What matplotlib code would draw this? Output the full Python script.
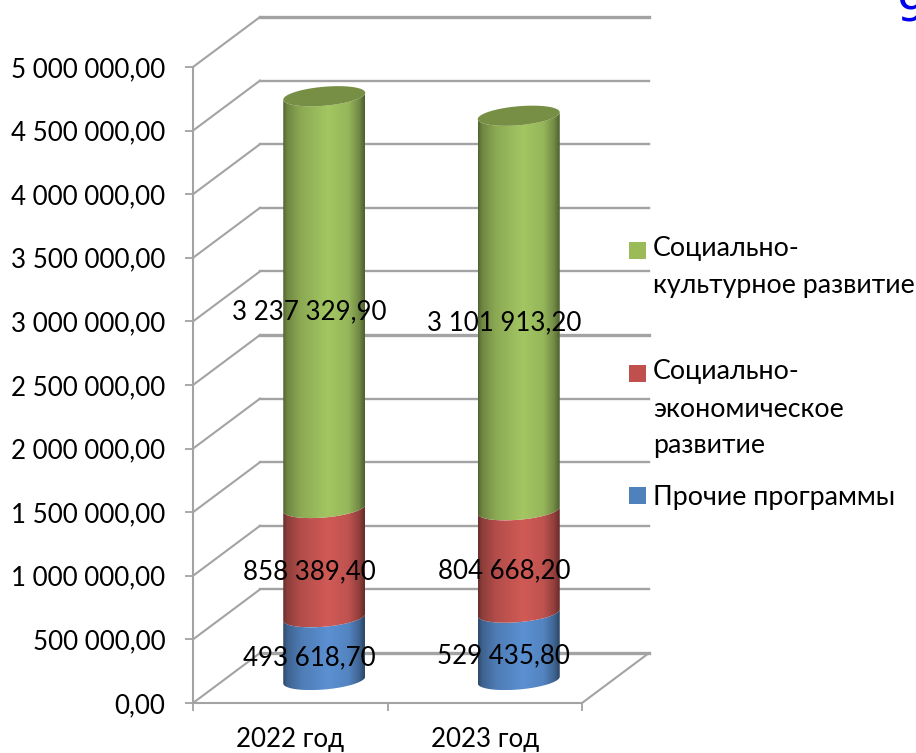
import matplotlib
matplotlib.use('Agg')
import matplotlib.pyplot as plt
import numpy as np
from matplotlib.path import Path
from matplotlib.patches import PathPatch, Polygon, Rectangle

plt.rcParams['font.family'] = ['Lato', 'DejaVu Sans']

years = ['2022 год', '2023 год']
other = [493618.70, 529435.80]
economic = [858389.40, 804668.20]
cultural = [3237329.90, 3101913.20]
other_labels = ['493 618,70', '529 435,80']
economic_labels = ['858 389,40', '804 668,20']
cultural_labels = ['3 237 329,90', '3 101 913,20']
y_ticks = [0, 500000, 1000000, 1500000, 2000000, 2500000, 3000000, 3500000, 4000000, 4500000, 5000000]
y_tick_labels = ['0,00', '500 000,00', '1 000 000,00', '1 500 000,00', '2 000 000,00', '2 500 000,00',
                 '3 000 000,00', '3 500 000,00', '4 000 000,00', '4 500 000,00', '5 000 000,00']

W, H = 916, 753
GRID = '#a3a3a3'
FONT = 18.6
LEGEND_FONT = 19.3

fig = plt.figure(figsize=(W / 100, H / 100), dpi=100)
ax = fig.add_axes([193 / W, 1 - 703 / H, 389 / W, 636 / H])
ax.set_xlim(-0.5, 1.5)
ax.set_ylim(0, 5000000)

# pixels to data units
px_x = 2 / 389
px_y = 5000000 / 636
depth_x = 67 * px_x
depth_y = 50 * px_y
right_x = 1.5 + depth_x


def fig_xy(x, y):
    return x / W, 1 - y / H


# walls, three of the back lines come out heavier in the reference
for v in y_ticks:
    back_lw = 2.4 if v in (0, 2500000, 5000000) else 1.7
    ax.plot([-0.5, -0.5 + depth_x], [v, v + depth_y], color=GRID, lw=1.5, clip_on=False, zorder=1)
    ax.plot([-0.5 + depth_x, right_x], [v + depth_y, v + depth_y], color=GRID, lw=back_lw, clip_on=False, zorder=1)
ax.plot([1.5, right_x], [0, depth_y], color=GRID, lw=1.5, clip_on=False, zorder=1)

# cylinders
half_w = 41 * px_x
half_h = 9.5 * px_y
tilt = 3.4 * px_y
cyl_dx = 34 * px_x
cyl_dy = 23 * px_y


def arc(cx, v, start, stop):
    t = np.linspace(start, stop, 80)
    return cx + half_w * np.cos(t), v - half_h * np.sin(t) + tilt * np.cos(t)


def draw_segment(cx, v0, v1, colour):
    x0, y0 = arc(cx, v0, np.pi, 0)
    x1, y1 = arc(cx, v1, 0, np.pi)
    verts = np.column_stack([np.r_[x0, x1], np.r_[y0, y1]])
    patch = PathPatch(Path(verts), transform=ax.transData, fc='none', ec='none')
    ax.add_patch(patch)
    pos = np.linspace(0, 1, 200)
    shade = np.interp(pos, [0, 0.05, 0.22, 0.55, 0.8, 0.93, 1], [0.5, 0.68, 0.86, 1, 0.92, 0.7, 0.48])
    grad = np.array(matplotlib.colors.to_rgb(colour))[None, None, :] * shade[None, :, None]
    im = ax.imshow(grad, extent=[cx - half_w, cx + half_w, min(y0.min(), y1.min()), max(y0.max(), y1.max())],
                   aspect='auto', interpolation='bilinear', zorder=3, clip_on=True)
    im.set_clip_path(patch)


for i in range(len(years)):
    cx = i + cyl_dx
    base = cyl_dy
    b1 = base + other[i]
    b2 = b1 + economic[i]
    b3 = b2 + cultural[i]
    draw_segment(cx, base, b1, '#5b90d2')
    draw_segment(cx, b1, b2, '#d05a56')
    draw_segment(cx, b2, b3, '#a3c662')
    t = np.linspace(0, 2 * np.pi, 120)
    top = np.column_stack([cx + half_w * np.cos(t), b3 - half_h * np.sin(t) + tilt * np.cos(t)])
    ax.add_patch(Polygon(top, closed=True, fc='#778f45', ec='none', zorder=4))

    # data labels sit in front of the bars
    lx = i + 19 * px_x
    lift = 13.5 * px_y
    ax.text(lx, other[i] / 2 + lift, other_labels[i], ha='center', va='center', fontsize=FONT, zorder=6)
    ax.text(lx, other[i] + economic[i] / 2 + lift, economic_labels[i], ha='center', va='center', fontsize=FONT, zorder=6)
    ax.text(lx, other[i] + economic[i] + cultural[i] / 2 + lift, cultural_labels[i], ha='center', va='center',
            fontsize=FONT, zorder=6)

ax.set_xlim(-0.5, 1.5)
ax.set_ylim(0, 5000000)
ax.patch.set_visible(False)

# axes
for s in ['top', 'right']:
    ax.spines[s].set_visible(False)
for s in ['left', 'bottom']:
    ax.spines[s].set_color(GRID)
    ax.spines[s].set_linewidth(1.5)
    ax.spines[s].set_zorder(2)
ax.set_yticks(y_ticks)
ax.set_yticklabels(y_tick_labels, fontsize=FONT)
ax.tick_params(axis='y', length=6, width=1.3, color=GRID, pad=14)
ax.set_xticks([-0.5, 0.5, 1.5])
ax.set_xticklabels([])
ax.set_xticks([0, 1], minor=True)
ax.set_xticklabels(years, minor=True, fontsize=FONT)
ax.tick_params(axis='x', which='major', length=6, width=1.3, color=GRID)
ax.tick_params(axis='x', which='minor', length=0, pad=17.5)

# legend
legend_boxes = [(629, 242, '#9bbb59'), (629, 365, '#c0504d'), (629, 487, '#4f81bd')]
for x, y, c in legend_boxes:
    fx, fy = fig_xy(x, y + 17)
    fig.add_artist(Rectangle((fx, fy), 17 / W, 17 / H, transform=fig.transFigure, fc=c, ec='none'))
legend_lines = [(249, 'Социально-'), (285, 'культурное развитие'), (372, 'Социально-'),
                (410, 'экономическое'), (445, 'развитие'), (497, 'Прочие программы')]
for y, s in legend_lines:
    fx, fy = fig_xy(653, y)
    fig.text(fx, fy, s, ha='left', va='center', fontsize=LEGEND_FONT)

# piece of a larger blue glyph cut off by the corner
fx, fy = fig_xy(897, 21)
fig.text(fx, fy, '9', color='#0000f0', ha='left', va='baseline', fontsize=34, family='DejaVu Sans')

fig.savefig('out.png', dpi=100)
